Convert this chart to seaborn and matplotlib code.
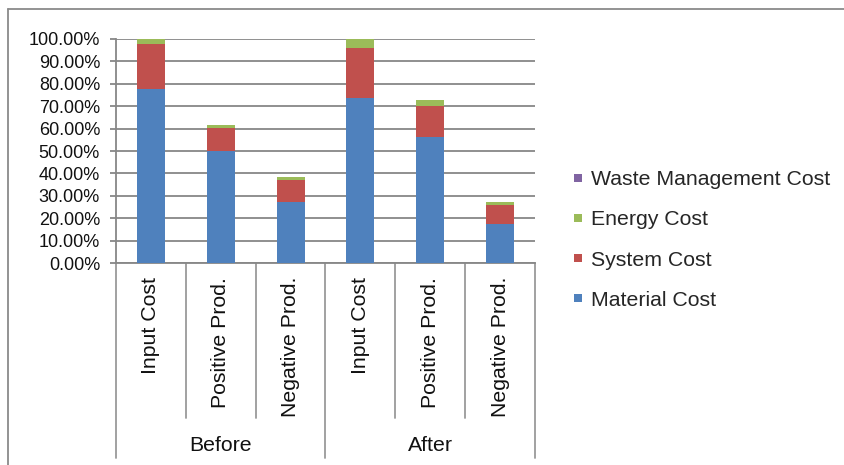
import numpy as np
import pandas as pd
import seaborn as sns
import matplotlib
matplotlib.use("Agg")
import matplotlib.pyplot as plt
from matplotlib.lines import Line2D
from matplotlib.transforms import blended_transform_factory

# Cost shares (fraction of the input cost) per stage and measure
groups = ["Before", "After"]
measures = ["Input Cost", "Positive Prod.", "Negative Prod."]
material_cost = [0.775, 0.500, 0.274, 0.738, 0.563, 0.175]
system_cost = [0.202, 0.104, 0.097, 0.220, 0.138, 0.082]
energy_cost = [0.023, 0.011, 0.015, 0.042, 0.028, 0.015]
waste_cost = [0.000, 0.000, 0.000, 0.000, 0.000, 0.000]
y_ticks = [0.0, 0.1, 0.2, 0.3, 0.4, 0.5, 0.6, 0.7, 0.8, 0.9, 1.0]

series_names = ["Material Cost", "System Cost", "Energy Cost", "Waste Management Cost"]
series_colors = ["#4F81BD", "#C0504D", "#9BBB59", "#8064A2"]

keys = [f"{g}|{m}" for g in groups for m in measures]
df = pd.DataFrame({
    "key": keys,
    "Material Cost": material_cost,
    "System Cost": system_cost,
    "Energy Cost": energy_cost,
    "Waste Management Cost": waste_cost,
})
stack = df[series_names].cumsum(axis=1)

sns.set_theme(style="white")
plt.rcParams["font.family"] = ["Liberation Sans", "DejaVu Sans"]

W, H = 845, 465
fig = plt.figure(figsize=(W / 100, H / 100), dpi=100)
left, right, top, bottom = 116, 535, 39, 263
ax = fig.add_axes([left / W, 1 - bottom / H, (right - left) / W, (bottom - top) / H])

# stacked bars: draw cumulative totals from the top layer down
for name, color in reversed(list(zip(series_names, series_colors))):
    sns.barplot(x=df["key"], y=stack[name], order=keys, color=color,
                width=0.4, saturation=1, ax=ax, linewidth=0, zorder=3)

grid_c = "#878787"
ax.set_ylim(0, 1)
ax.set_xlim(-0.5, len(keys) - 0.5)
ax.set_yticks(y_ticks)
ax.set_yticklabels([f"{v * 100:.2f}%" for v in y_ticks], fontsize=13, color="#111111")
ax.yaxis.grid(True, color=grid_c, linewidth=1.3, zorder=0)
ax.xaxis.grid(False)
ax.set_xlabel("")
ax.set_ylabel("")
for s in ["top", "right"]:
    ax.spines[s].set_visible(False)
ax.spines["left"].set_color(grid_c)
ax.spines["left"].set_linewidth(1.3)
ax.spines["bottom"].set_color(grid_c)
ax.spines["bottom"].set_linewidth(1.3)
ax.tick_params(axis="y", which="major", left=True, length=4.5, width=1.3,
               color=grid_c, pad=7)

# multi-level category axis
ax.set_xticks(range(len(keys)))
ax.set_xticklabels([m for g in groups for m in measures], rotation=90,
                   fontsize=15.3, color="#111111", va="top", ha="center")
ax.tick_params(axis="x", bottom=False, pad=4)

trans = blended_transform_factory(ax.transData, fig.transFigure)
sep_c = "#9a9a9a"
y_axis = 1 - bottom / H
y_short = 1 - 418 / H
y_long = 1 - 458 / H
n = len(measures)
for i in range(len(keys) + 1):
    xb = i - 0.5
    yb = y_long if i % n == 0 else y_short
    ax.add_line(Line2D([xb, xb], [y_axis, yb], transform=trans, color=sep_c,
                       linewidth=1.3, clip_on=False))
for gi, g in enumerate(groups):
    xc = gi * n + (n - 1) / 2
    ax.text(xc, 1 - 445 / H, g, transform=trans, ha="center", va="center",
            fontsize=15.3, color="#111111")

# outer chart frame
fig.add_artist(Line2D([8 / W, 8 / W], [0, 1 - 9 / H], transform=fig.transFigure,
                      color="#8a8a8a", linewidth=1.3))
fig.add_artist(Line2D([8 / W, 1], [1 - 9 / H, 1 - 9 / H], transform=fig.transFigure,
                      color="#8a8a8a", linewidth=1.3))

# legend, top layer listed first
handles = [Line2D([], [], marker="s", linestyle="none", markersize=5.5,
                  markerfacecolor=c, markeredgewidth=0)
           for c in reversed(series_colors)]
fig.legend(handles, list(reversed(series_names)), loc="center left",
           bbox_to_anchor=(572 / W, 1 - 240 / H), frameon=False, fontsize=15.3,
           handlelength=0.6, handletextpad=0.3, labelspacing=0.99,
           borderaxespad=0, borderpad=0)

fig.savefig("out.png", dpi=100, facecolor="white")
